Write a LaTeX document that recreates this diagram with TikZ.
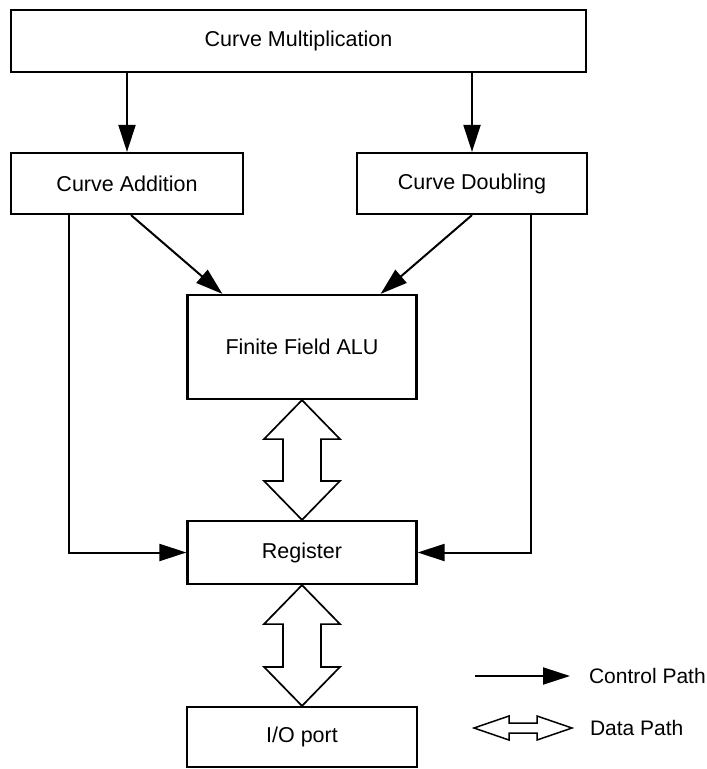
\documentclass[tikz,border=0pt]{standalone}
\usepackage{fontspec}
\setmainfont{Liberation Sans}
\usetikzlibrary{arrows.meta,calc}

% hollow double arrow between two anchors (top, bottom)
\newcommand{\databus}[2]{%
  \draw[bus] (#1) -- ([shift={(38pt,-39pt)}]#1) -- ([shift={(19pt,-39pt)}]#1)
    -- ([shift={(19pt,39pt)}]#2) -- ([shift={(38pt,39pt)}]#2) -- (#2)
    -- ([shift={(-38pt,39pt)}]#2) -- ([shift={(-19pt,39pt)}]#2)
    -- ([shift={(-19pt,-39pt)}]#1) -- ([shift={(-38pt,-39pt)}]#1) -- cycle;}

\begin{document}
\begin{tikzpicture}[x=1pt, y=1pt, >={Triangle[length=27pt,width=17pt]}, line width=2pt,
    box/.style={draw, line width=2.2pt, inner sep=0pt, font=\fontsize{21.5}{25}\selectfont},
    ctrl/.style={->},
    bus/.style={line width=1.7pt, line join=miter, fill=white},
    legend/.style={anchor=west, inner sep=0pt, font=\fontsize{21}{25}\selectfont}]
    \useasboundingbox (0,0) rectangle (707,-769);

    % Top level
    \node[box, minimum width=575pt, minimum height=62pt] (mult) at (298.5,-41) {Curve Multiplication};

    % Point operations
    \node[box, minimum width=232pt, minimum height=61pt] (add) at (127,-183.5) {Curve Addition};
    \node[box, minimum width=230pt, minimum height=61pt] (dbl) at (472,-183.5) {Curve Doubling};

    % Field arithmetic and storage
    \node[box, minimum width=229pt, minimum height=104pt] (alu) at (302,-347) {Finite Field ALU};
    \node[box, minimum width=229pt, minimum height=63pt] (reg) at (302,-552.5) {Register};
    \node[box, minimum width=230pt, minimum height=60pt] (io) at (302,-737) {I/O port};

    % Control paths
    \draw[ctrl] (mult.south -| add.north) -- (add.north);
    \draw[ctrl] (mult.south -| dbl.north) -- (dbl.north);
    \draw[ctrl] ([xshift=4pt]add.south) -- ([xshift=36pt]alu.north west);
    \draw[ctrl] (dbl.south) -- ([xshift=-37pt]alu.north east);
    \draw[ctrl] ([xshift=59pt]add.south west) |- (reg.west);
    \draw[ctrl] ([xshift=-57pt]dbl.south east) |- (reg.east);

    % Data paths
    \databus{alu.south}{reg.north}
    \databus{reg.south}{io.north}

    % Legend
    \coordinate (ctrlstart) at (475,-676);
    \node[legend] (ctrltxt) at (588,-676) {Control Path};
    \draw[ctrl, shorten >=18pt] (ctrlstart) -- (ctrltxt.west);

    \coordinate (datastart) at (474,-728);
    \coordinate (dataend) at (572,-728);
    \node[legend] (datatxt) at (589,-728) {Data Path};
    \draw[bus, line width=1.5pt] (datastart) -- ([shift={(35pt,12pt)}]datastart) -- ([shift={(35pt,5pt)}]datastart)
        -- ([shift={(-35pt,5pt)}]dataend) -- ([shift={(-35pt,12pt)}]dataend) -- (dataend)
        -- ([shift={(-35pt,-12pt)}]dataend) -- ([shift={(-35pt,-5pt)}]dataend)
        -- ([shift={(35pt,-5pt)}]datastart) -- ([shift={(35pt,-12pt)}]datastart) -- cycle;
\end{tikzpicture}
\end{document}
